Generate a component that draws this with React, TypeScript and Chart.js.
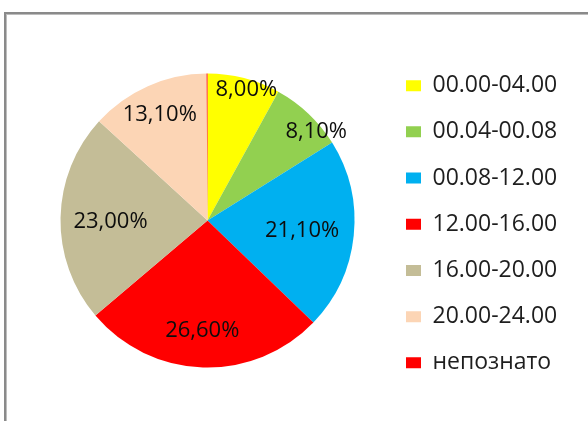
import React, { useEffect, useRef } from "react";
import { Chart, registerables } from "chart.js";

Chart.register(...registerables);

const categories = [
  "00.00-04.00",
  "00.04-00.08",
  "00.08-12.00",
  "12.00-16.00",
  "16.00-20.00",
  "20.00-24.00",
  "непознато",
];
const shares = [8.0, 8.1, 21.1, 26.6, 23.0, 13.1, 0.1];
const sliceColors = ["#FFFF00", "#92D050", "#00B0F0", "#FF0000", "#C4BD97", "#FCD5B5", "#FF0000"];
const showLabel = [true, true, true, true, true, true, false];
// label placement within each slice: fraction of the slice's angle and of the radius
const labelAngleFrac = [0.57, 0.74, 0.49, 0.51, 0.49, 0.5, 0.5];
const labelRadiusFrac = [0.935, 0.96, 0.646, 0.74, 0.66, 0.8, 0.5];

const FONT = '"Open Sans", "Noto Sans", sans-serif';
const LEGEND_SIZE = 23;
const LEGEND_PAD = 23.2;
const BOX_W = 15;
const BOX_H = 11;
const PIE_R = 147;
const CENTER_X = 207.5;
const CENTER_Y = 220.5;
const BOX_X = 406;

const sliceLabels = {
  id: "sliceLabels",
  afterDatasetsDraw(chart: any) {
    const meta = chart.getDatasetMeta(0);
    const ctx = chart.ctx;
    ctx.save();
    ctx.font = `22px ${FONT}`;
    ctx.fillStyle = "#0d0d0d";
    ctx.textAlign = "center";
    ctx.textBaseline = "alphabetic";
    meta.data.forEach((arc: any, i: number) => {
      if (!showLabel[i]) return;
      const p = arc.getProps(["startAngle", "endAngle", "outerRadius", "x", "y"], true);
      const a = p.startAngle + (p.endAngle - p.startAngle) * labelAngleFrac[i];
      const r = p.outerRadius * labelRadiusFrac[i];
      const text = shares[i].toFixed(2).replace(".", ",") + "%";
      ctx.fillText(text, p.x + Math.cos(a) * r, p.y + Math.sin(a) * r + 7.8);
    });
    ctx.restore();
  },
};

export default function App() {
  const ref = useRef<HTMLCanvasElement | null>(null);

  useEffect(() => {
    document.body.style.margin = "0";
    const canvas = ref.current!;
    // measure legend text so the legend sits at the intended place
    const mctx = document.createElement("canvas").getContext("2d")!;
    mctx.font = `${LEGEND_SIZE}px ${FONT}`;
    const textW = Math.max(...categories.map((c) => mctx.measureText(c).width));
    const legendW = LEGEND_PAD + BOX_W + LEGEND_SIZE / 2 + textW + 10;
    const legendLeft = BOX_X - LEGEND_PAD;
    const padRight = 588 - legendLeft - legendW;
    const padLeft = 2 * CENTER_X - legendLeft;
    const H = 400;
    const padTop = CENTER_Y - H / 2;
    const padBottom = 421 - (CENTER_Y + H / 2);

    const chart = new Chart(canvas, {
      type: "pie",
      data: {
        labels: categories,
        datasets: [
          {
            data: shares,
            backgroundColor: sliceColors,
            borderWidth: 0,
          },
        ],
      },
      options: {
        animation: false,
        responsive: false,
        events: [],
        radius: PIE_R,
        layout: {
          padding: { left: padLeft, top: padTop, bottom: padBottom, right: padRight },
        },
        plugins: {
          tooltip: { enabled: false },
          legend: {
            position: "right",
            title: {
              display: true,
              text: " ",
              font: { size: 1 },
              padding: { top: 6.3, bottom: 0 },
            },
            labels: {
              boxWidth: BOX_W,
              boxHeight: BOX_H,
              padding: LEGEND_PAD,
              color: "#1e1e1e",
              font: { family: FONT, size: LEGEND_SIZE },
            },
          },
        },
      } as any,
      plugins: [sliceLabels],
    });
    return () => chart.destroy();
  }, []);

  return (
    <div style={{ position: "relative", width: 588, height: 421, overflow: "hidden", background: "#fff" }}>
      <div
        style={{
          position: "absolute",
          left: 4,
          top: 12,
          width: 620,
          height: 440,
          borderLeft: "2px solid #8a8a8a",
          borderTop: "2px solid #8a8a8a",
          boxShadow: "inset 1px 1px 0 #bdbdbd",
        }}
      />
      <canvas ref={ref} width={588} height={421} style={{ position: "absolute", left: 0, top: 0 }} />
    </div>
  );
}
